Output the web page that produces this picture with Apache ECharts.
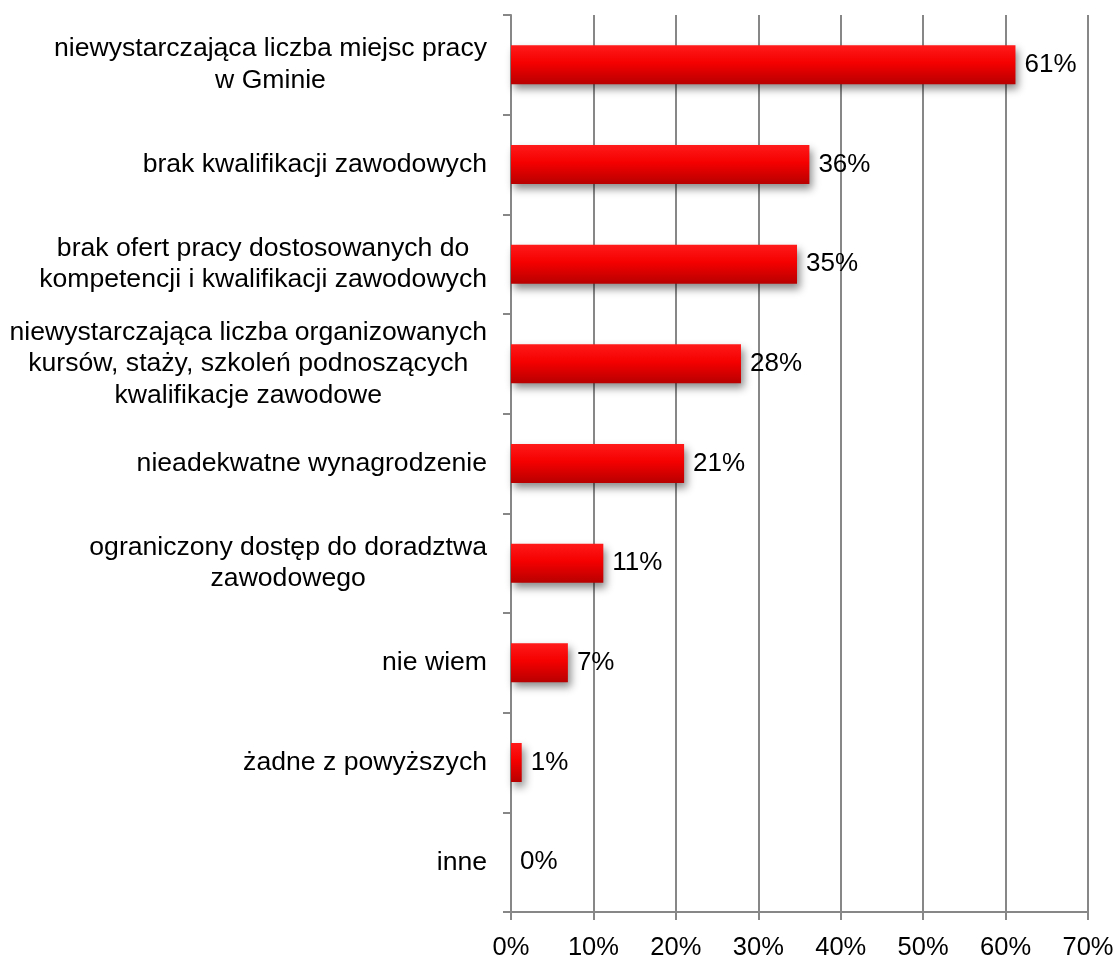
<!DOCTYPE html>
<html>
<head>
<meta charset="utf-8">
<script src="https://cdn.jsdelivr.net/npm/echarts@6/dist/echarts.min.js"></script>
<style>
html,body{margin:0;padding:0;background:#fff;}
#chart{width:1116px;height:956px;}
</style>
</head>
<body>
<div id="chart"></div>
<script>
const categories = [
  "niewystarczająca liczba miejsc pracy\nw Gminie",
  "brak kwalifikacji zawodowych",
  "brak ofert pracy dostosowanych do\nkompetencji i kwalifikacji zawodowych",
  "niewystarczająca liczba organizowanych\nkursów, staży, szkoleń podnoszących\nkwalifikacje zawodowe",
  "nieadekwatne wynagrodzenie",
  "ograniczony dostęp do doradztwa\nzawodowego",
  "nie wiem",
  "żadne z powyższych",
  "inne"
];
const values = [61.2, 36.2, 34.7, 27.9, 21.0, 11.2, 6.9, 1.3, 0];
const xTicks = { min: 0, max: 70, interval: 10 };

const chart = echarts.init(document.getElementById('chart'));
const FONT = '"Liberation Sans", Arial, sans-serif';
const LINE = { color: '#878787', width: 2 };

chart.setOption({
  animation: false,
  grid: { left: 511, right: 28, top: 15, bottom: 44, containLabel: false, outerBoundsMode: 'none' },
  xAxis: {
    type: 'value',
    min: xTicks.min, max: xTicks.max, interval: xTicks.interval,
    axisLine: { show: true, lineStyle: LINE },
    axisTick: { show: true, length: 8, lineStyle: LINE },
    splitLine: { show: true, lineStyle: LINE },
    axisLabel: { formatter: v => v + '%', color: '#000', fontFamily: FONT, fontSize: 25.5, margin: 23 }
  },
  yAxis: {
    type: 'category',
    inverse: true,
    data: categories,
    axisLine: { show: true, lineStyle: LINE },
    axisTick: { show: true, length: 8, lineStyle: LINE },
    axisLabel: {
      margin: 24,
      color: '#000',
      fontFamily: FONT,
      fontSize: 26.6,
      lineHeight: 31.5,
      formatter: v => v.split('\n').map(l => '{c|' + l + '}').join('\n'),
      rich: { c: { align: 'center', fontFamily: FONT, fontSize: 26.6, lineHeight: 31.5, color: '#000' } }
    }
  },
  series: [{
    type: 'bar',
    data: values,
    barWidth: 39,
    itemStyle: {
      color: new echarts.graphic.LinearGradient(0, 0, 0, 1, [
        { offset: 0, color: '#ff1a1a' },
        { offset: 0.45, color: '#f50000' },
        { offset: 1, color: '#b80000' }
      ]),
      shadowColor: 'rgba(0,0,0,0.45)',
      shadowBlur: 8,
      shadowOffsetX: 3,
      shadowOffsetY: 5
    },
    label: {
      show: true,
      position: 'right',
      distance: 9,
      formatter: p => Math.round(p.value) + '%',
      color: '#000',
      fontFamily: FONT,
      fontSize: 26
    }
  }]
});
</script>
</body>
</html>
